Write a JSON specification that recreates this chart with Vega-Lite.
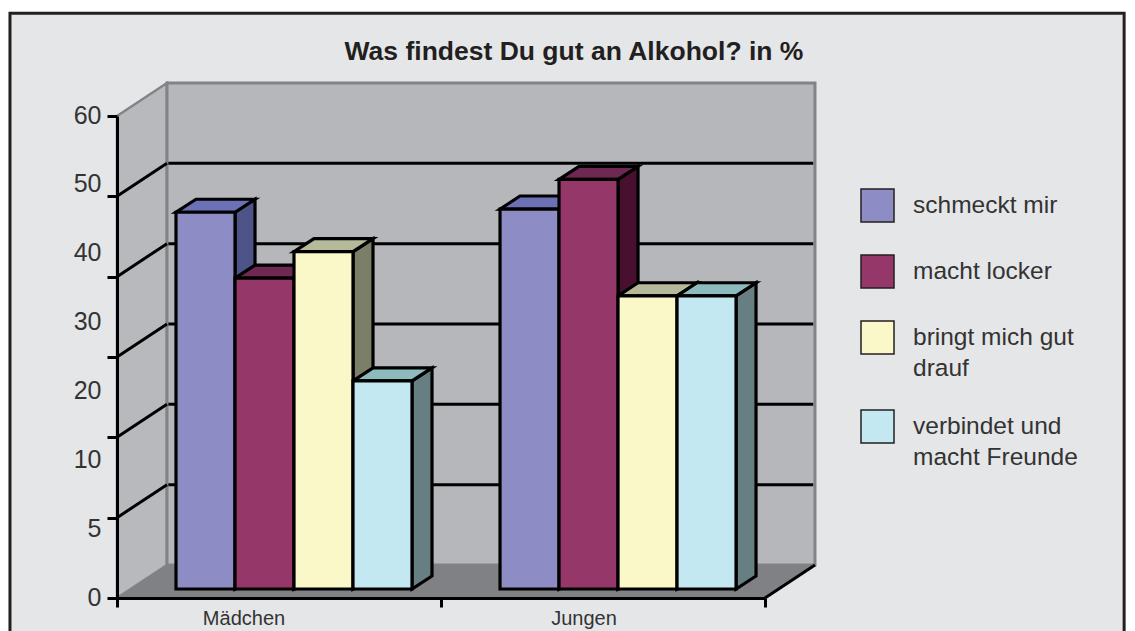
{
"$schema":"https://vega.github.io/schema/vega-lite/v6.json",
"autosize":"none","width":648,"height":482,
"padding":{"left":117,"top":116,"right":370,"bottom":33},
"background":"#ffffff",
"config":{"view":{"stroke":null}},
"title":{"text":"Was findest Du gut an Alkohol? in %","anchor":"middle","offset":10,"dx":133,"dy":64,"fontSize":26.5,"fontWeight":"bold","font":"Liberation Sans","color":"#231f20"},
"datasets":{
"bars":[
{"group":"Mädchen","series":"schmeckt mir","value":46.9},
{"group":"Mädchen","series":"macht locker","value":38.7},
{"group":"Mädchen","series":"bringt mich gut drauf","value":42},
{"group":"Mädchen","series":"verbindet und macht Freunde","value":25.9},
{"group":"Jungen","series":"schmeckt mir","value":47.3},
{"group":"Jungen","series":"macht locker","value":51},
{"group":"Jungen","series":"bringt mich gut drauf","value":36.5},
{"group":"Jungen","series":"verbindet und macht Freunde","value":36.5}],
"grid":[{"tick":10},{"tick":20},{"tick":30},{"tick":40},{"tick":50}],
"depth":[{"d":0},{"d":1}]
},
"layer":[
{
"encoding":{
"x":{"field":"x","type":"quantitative","stack":null,"scale":{"domain":[0,10.983],"nice":false,"zero":false},
"axis":{"values":[0,5.492,10.983],"labels":false,"title":null,"grid":false,"domainColor":"#000000","domainWidth":3,"tickColor":"#000000","tickWidth":3,"tickSize":9,"zindex":1}},
"y":{"field":"y","type":"quantitative","stack":null,"scale":{"domain":[0,60],"nice":false,"zero":false},
"axis":{"values":[0,10,20,30,40,50,60],"labels":false,"title":null,"grid":false,"domainColor":"#000000","domainWidth":3,"tickColor":"#000000","tickWidth":3,"tickSize":10,"zindex":1}}
},
"layer":[
{"data":{"values":[{"part":"frame"}]},"transform":[{"calculate":"-1.814","as":"x"},{"calculate":"17.07","as":"x2"},{"calculate":"72.8","as":"y"},{"calculate":"-10","as":"y2"}],
"mark":{"type":"rect","fill":"#e5e6e8","stroke":"#231f20","strokeWidth":3},
"encoding":{"x2":{"field":"x2"},"y2":{"field":"y2"}}},
{"data":{"name":"depth"},"transform":[{"calculate":"datum.d*0.847","as":"x"},{"calculate":"60+datum.d*4.108","as":"y"},{"calculate":"datum.d*4.108","as":"y2"}],
"mark":{"type":"area","fill":"#b8b9bc","stroke":"#828386","strokeWidth":2.5},"encoding":{"y2":{"field":"y2"}}},
{"data":{"values":[{"part":"wall"}]},"transform":[{"calculate":"0.847","as":"x"},{"calculate":"11.83","as":"x2"},{"calculate":"64.108","as":"y"},{"calculate":"4.108","as":"y2"}],
"mark":{"type":"rect","fill":"#b6b7ba","stroke":"#828386","strokeWidth":3},
"encoding":{"x2":{"field":"x2"},"y2":{"field":"y2"}}},
{"data":{"name":"depth"},"transform":[{"calculate":"datum.d*0.847","as":"x"},{"calculate":"10.983+datum.d*0.847","as":"x2"},{"calculate":"datum.d*4.108","as":"y"}],
"mark":{"type":"area","orient":"horizontal","fill":"#808184"},"encoding":{"x2":{"field":"x2"}}},
{"data":{"name":"depth"},"transform":[{"calculate":"10.983+datum.d*0.847","as":"x"},{"calculate":"datum.d*4.108","as":"y"}],
"mark":{"type":"line","color":"#000000","strokeWidth":3},"encoding":{}},
{"data":{"name":"grid"},"transform":[{"calculate":"[0,1]","as":"d"},{"flatten":["d"]},{"calculate":"datum.d*0.847","as":"x"},{"calculate":"datum.tick+datum.d*4.108","as":"y"}],
"mark":{"type":"line","color":"#000000","strokeWidth":3},"encoding":{"detail":{"field":"tick"}}},
{"data":{"name":"grid"},"transform":[{"calculate":"0.87","as":"x"},{"calculate":"11.8","as":"x2"},{"calculate":"datum.tick+4.108","as":"y"}],
"mark":{"type":"rule","color":"#000000","strokeWidth":3},"encoding":{"x2":{"field":"x2"}}},
{"data":{"name":"bars"},"transform":[
{"calculate":"indexof(['Mädchen','Jungen'],datum.group)*5.492+1+indexof(['schmeckt mir','macht locker','bringt mich gut drauf','verbindet und macht Freunde'],datum.series)","as":"x0"},
{"calculate":"[0,1]","as":"d"},{"flatten":["d"]},
{"calculate":"datum.x0+1+datum.d*0.339","as":"x"},
{"calculate":"1.12+datum.value+datum.d*1.62","as":"y"},
{"calculate":"1.12+datum.d*1.62","as":"y2"},
{"calculate":"{'schmeckt mir':'#4f5488','macht locker':'#480f2f','bringt mich gut drauf':'#7c7f68','verbindet und macht Freunde':'#677f82'}[datum.series]","as":"shade"}],
"mark":{"type":"area","stroke":"#000000","strokeWidth":3.2,"strokeJoin":"miter"},
"encoding":{"y2":{"field":"y2"},"detail":[{"field":"group"},{"field":"series"}],"color":{"field":"shade","type":"nominal","scale":null,"legend":null}}},
{"data":{"name":"bars"},"transform":[
{"calculate":"indexof(['Mädchen','Jungen'],datum.group)*5.492+1+indexof(['schmeckt mir','macht locker','bringt mich gut drauf','verbindet und macht Freunde'],datum.series)","as":"x0"},
{"calculate":"[0,1]","as":"d"},{"flatten":["d"]},
{"calculate":"datum.x0+datum.d*0.339","as":"x"},
{"calculate":"datum.x0+1+datum.d*0.339","as":"x2"},
{"calculate":"1.12+datum.value+datum.d*1.62","as":"y"},
{"calculate":"{'schmeckt mir':'#6b71b4','macht locker':'#6f2852','bringt mich gut drauf':'#b6ba9a','verbindet und macht Freunde':'#8dbabd'}[datum.series]","as":"shade"}],
"mark":{"type":"area","orient":"horizontal","stroke":"#000000","strokeWidth":3.2,"strokeJoin":"miter"},
"encoding":{"x2":{"field":"x2"},"detail":[{"field":"group"},{"field":"series"}],"color":{"field":"shade","type":"nominal","scale":null,"legend":null}}},
{"data":{"name":"bars"},"transform":[
{"calculate":"indexof(['Mädchen','Jungen'],datum.group)*5.492+1+indexof(['schmeckt mir','macht locker','bringt mich gut drauf','verbindet und macht Freunde'],datum.series)","as":"x"},
{"calculate":"datum.x+1","as":"x2"},
{"calculate":"1.12+datum.value","as":"y"},
{"calculate":"1.12","as":"y2"}],
"mark":{"type":"rect","stroke":"#000000","strokeWidth":3.2},
"encoding":{"x2":{"field":"x2"},"y2":{"field":"y2"},
"fill":{"field":"series","type":"nominal","scale":{"domain":["schmeckt mir","macht locker","bringt mich gut drauf","verbindet und macht Freunde"],"range":["#8e8cc4","#953769","#faf7c8","#c3e8f1"]},
"legend":{"orient":"none","legendX":743,"legendY":72,"title":null,"symbolType":"square","symbolSize":1089,"symbolStrokeColor":"#231f20","symbolStrokeWidth":1.5,"symbolOpacity":1,"labelFont":"Liberation Sans","labelFontSize":24.5,"labelColor":"#333333","labelOffset":18,"labelLimit":300,"rowPadding":27,
"encoding":{"labels":{"lineHeight":{"value":31}}},
"labelExpr":"datum.label=='bringt mich gut drauf'?['bringt mich gut','drauf']:datum.label=='verbindet und macht Freunde'?['verbindet und','macht Freunde']:datum.label"}}}}
]
},
{
"data":{"values":[{"cat":"Mädchen","lab":"0"}]},
"mark":{"type":"point","opacity":0},
"encoding":{
"x":{"field":"cat","type":"nominal","scale":{"type":"band","domain":["Mädchen","Jungen"],"range":[-43,637],"padding":0},
"axis":{"title":null,"orient":"bottom","domain":false,"ticks":false,"labelAngle":0,"labelFont":"Liberation Sans","labelFontSize":20,"labelColor":"#333333","labelPadding":10,"zindex":1}},
"y":{"field":"lab","type":"ordinal","scale":{"type":"point","domain":["60","50","40","30","20","10","5","0"],"range":[-1,481],"padding":0},
"axis":{"title":null,"orient":"left","domain":false,"ticks":false,"labelFont":"Liberation Sans","labelFontSize":25,"labelColor":"#333333","labelPadding":16,"zindex":1}}
}
}
],
"resolve":{"scale":{"x":"independent","y":"independent"},"axis":{"x":"independent","y":"independent"}}
}
